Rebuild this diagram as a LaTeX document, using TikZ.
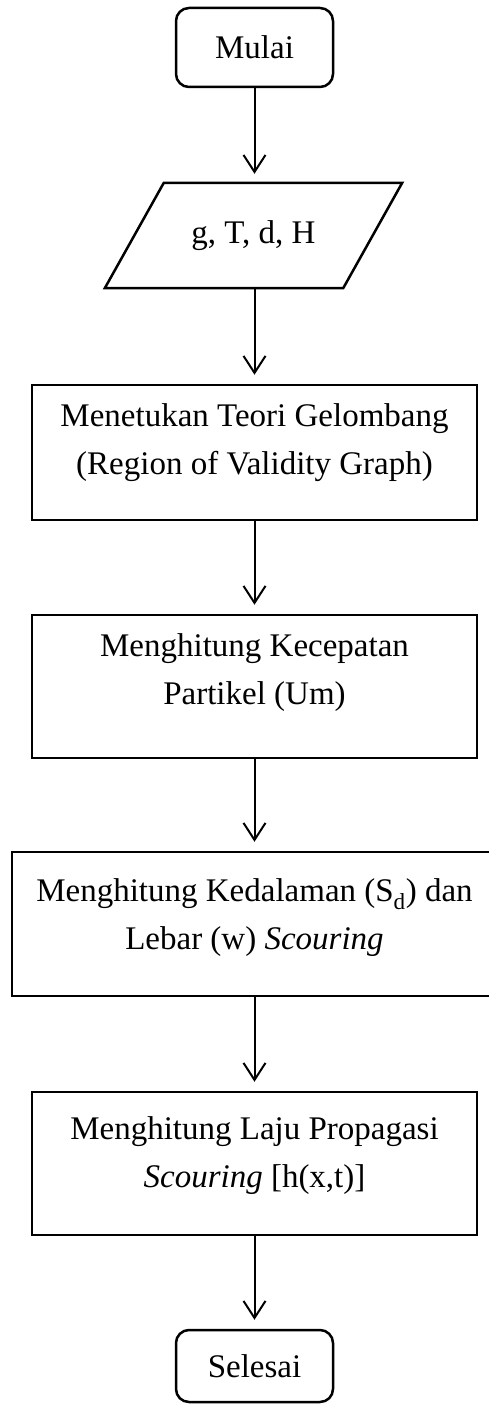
\documentclass[tikz,border=0pt]{standalone}
\usepackage{fontspec}
\setmainfont{Liberation Serif}
\usetikzlibrary{arrows.meta,calc}
\begin{document}
\begin{tikzpicture}[x=1pt,y=-1pt,
  txt/.style={font=\fontsize{33}{48}\selectfont, align=center, inner sep=0pt},
  term/.style={draw, line width=2.5pt, rounded corners=13pt, minimum width=157pt, inner sep=0pt},
  procbox/.style={draw, line width=2.5pt, minimum width=445pt, inner sep=0pt},
  flow/.style={line width=2pt, -{Straight Barb[length=17pt,width=22pt,line width=2pt]}, shorten >=9pt}
]
\useasboundingbox (0,0) rectangle (488,1404);
% start
\node[term, minimum height=79pt, txt] (start) at (254.5,47.5) {Mulai};
% input
\node[txt, minimum width=179pt, minimum height=105pt] (in) at (253.5,235.5) {g, T, d, H};
\draw[line width=2.5pt, line join=miter] (in.north west) -- ($(in.north east)+(59,0)$) -- (in.south east) -- ($(in.south west)+(-59,0)$) -- cycle;
% process boxes
\node[procbox, minimum height=135pt] (b1) at (254.5,452.5) {};
\node[txt] (t1) at (254.5,443) {Menetukan Teori Gelombang\\(Region of Validity Graph)};
\node[procbox, minimum height=143pt] (b2) at (254.5,686.5) {};
\node[txt] (t2) at (254.5,673) {Menghitung Kecepatan\\Partikel (Um)};
\node[procbox, minimum width=485pt, minimum height=144pt] (b3) at (254.5,924) {};
\node[txt] (t3) at (254.5,918) {Menghitung Kedalaman (S\textsubscript{d}) dan\\Lebar (w) \textit{Scouring}};
\node[procbox, minimum height=143pt] (b4) at (254.5,1163.5) {};
\node[txt] (t4) at (254.5,1156) {Menghitung Laju Propagasi\\\textit{Scouring} [h(x,t)]};
% end
\node[term, minimum height=72pt, txt] (stop) at (254.5,1366) {Selesai};
% connectors
\draw[flow] (start.south) -- (start.south |- in.north);
\draw[flow] (start.south |- in.south) -- (b1.north);
\draw[flow] (b1.south) -- (b2.north);
\draw[flow] (b2.south) -- (b3.north);
\draw[flow] (b3.south) -- (b4.north);
\draw[flow] (b4.south) -- (stop.north);
\end{tikzpicture}
\end{document}
